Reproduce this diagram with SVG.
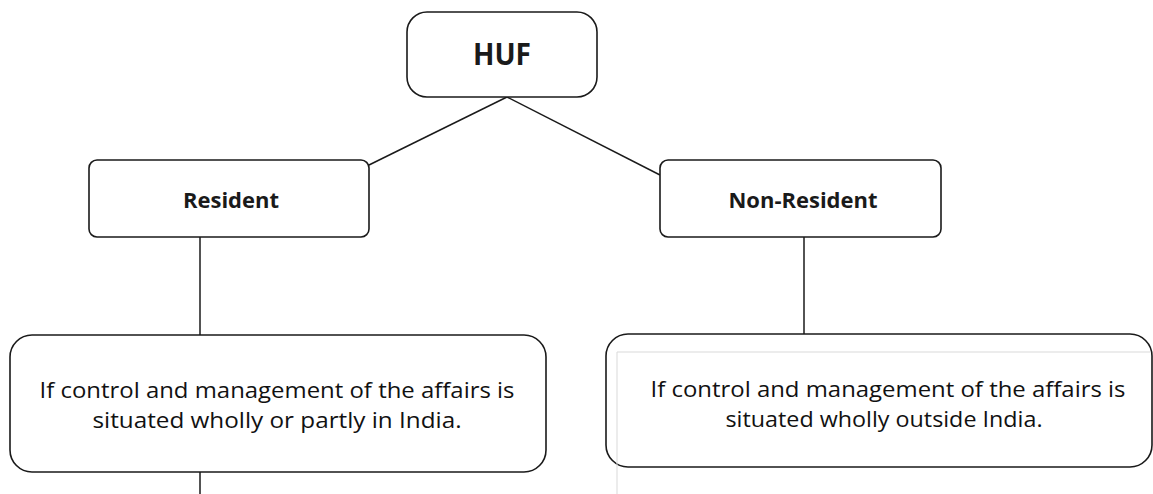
<svg xmlns="http://www.w3.org/2000/svg" width="1153" height="494" viewBox="0 0 1153 494">
  <style>
    .box { fill: #ffffff; stroke: #1a1a1a; stroke-width: 1.6; }
    .conn { stroke: #1a1a1a; stroke-width: 1.5; fill: none; }
    .ghost { stroke: #d9d9d9; stroke-width: 1; fill: none; }
    .title { font-family: "Open Sans", "Liberation Sans", sans-serif; font-weight: bold; fill: #1a1a1a; text-anchor: middle; }
    .body { font-family: "Open Sans", "Liberation Sans", sans-serif; font-size: 22px; fill: #111111; text-anchor: middle; }
  </style>
  <rect width="1153" height="494" fill="#ffffff"/>
  <g id="connectors">
    <line class="conn" x1="507" y1="97" x2="369" y2="165"/>
    <line class="conn" x1="507" y1="97" x2="660" y2="175"/>
    <line class="conn" x1="200" y1="237" x2="200" y2="335"/>
    <line class="conn" x1="804" y1="237" x2="804" y2="334"/>
    <line class="conn" x1="200" y1="472" x2="200" y2="494"/>
  </g>
  <g id="huf">
    <rect class="box" x="407" y="12" width="190" height="85" rx="20"/>
    <text class="title" x="502" y="65" font-size="31" textLength="58" lengthAdjust="spacingAndGlyphs">HUF</text>
  </g>
  <g id="resident">
    <rect class="box" x="89" y="160" width="280" height="77" rx="8"/>
    <text class="title" x="231" y="208" font-size="22" textLength="96" lengthAdjust="spacingAndGlyphs">Resident</text>
  </g>
  <g id="non-resident">
    <rect class="box" x="660" y="160" width="281" height="77" rx="8"/>
    <text class="title" x="803" y="208" font-size="22" textLength="149" lengthAdjust="spacingAndGlyphs">Non-Resident</text>
  </g>
  <g id="resident-condition">
    <rect class="box" x="10" y="335" width="536" height="137" rx="22"/>
    <text class="body" x="277" y="398" textLength="475" lengthAdjust="spacingAndGlyphs">If control and management of the affairs is</text>
    <text class="body" x="277" y="428" textLength="369" lengthAdjust="spacingAndGlyphs">situated wholly or partly in India.</text>
  </g>
  <g id="non-resident-condition">
    <rect class="box" x="606" y="334" width="546" height="133" rx="22"/>
    <path class="ghost" d="M617 494 V352 H1150"/>
    <text class="body" x="888" y="397" textLength="475" lengthAdjust="spacingAndGlyphs">If control and management of the affairs is</text>
    <text class="body" x="884" y="427" textLength="317" lengthAdjust="spacingAndGlyphs">situated wholly outside India.</text>
  </g>
</svg>
